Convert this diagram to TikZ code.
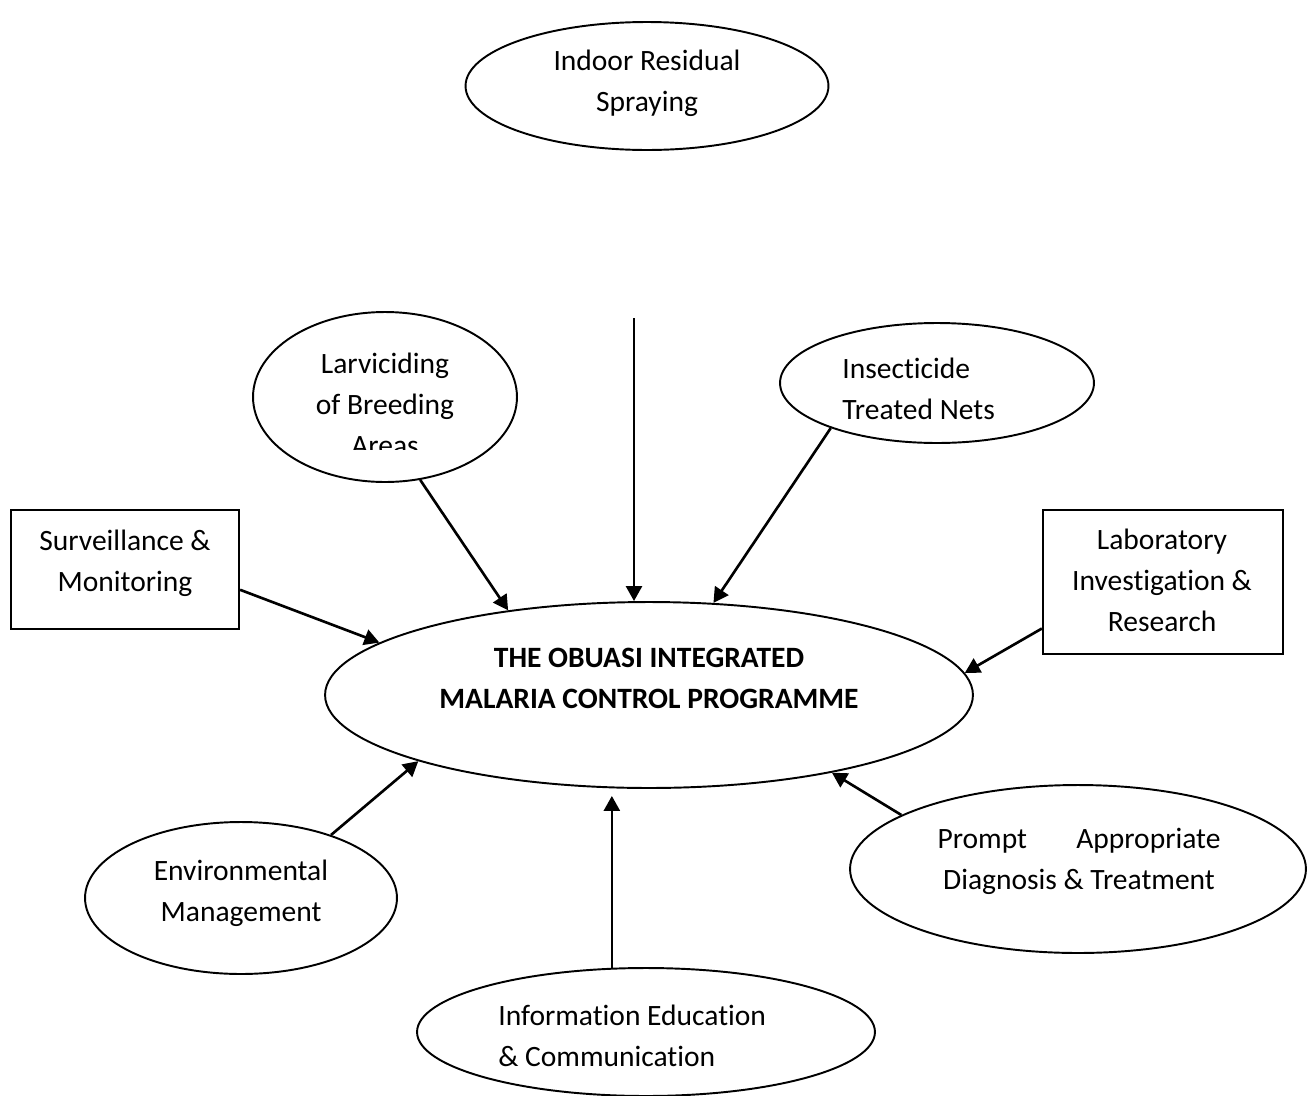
\documentclass[tikz,border=0pt]{standalone}
\usepackage{fontspec}
\setmainfont{Carlito}[Ligatures=CommonOff]
\usetikzlibrary{shapes.geometric,arrows.meta}
\begin{document}
\begin{tikzpicture}[x=0.02cm, y=-0.02cm,
  oval/.style={draw=black, ellipse, line width=1.1pt, inner sep=0pt},
  box/.style={draw=black, rectangle, line width=1.3pt, inner sep=0pt},
  txt/.style={inner sep=0pt, anchor=north, align=center, font=\fontsize{16.8}{23.3}\selectfont},
  arr/.style={line width=1.5pt, -{Triangle[length=0.3cm, width=0.32cm]}}]
  \useasboundingbox (0,0) rectangle (1316,1096);
  \node[oval, minimum width=7.26cm, minimum height=2.56cm] (irs) at (647,86) {};
  \node[oval, minimum width=5.28cm, minimum height=3.4cm] (larv) at (385,397) {};
  \node[oval, minimum width=6.28cm, minimum height=2.4cm] (itn) at (937,383) {};
  \node[box, minimum width=4.56cm, minimum height=2.38cm] (surv) at (125,569.5) {};
  \node[box, minimum width=4.8cm, minimum height=2.88cm] (lab) at (1163,582) {};
  \node[oval, minimum width=12.96cm, minimum height=3.72cm] (prog) at (649,695) {};
  \node[oval, minimum width=6.24cm, minimum height=3.04cm] (env) at (241,898) {};
  \node[oval, minimum width=9.12cm, minimum height=3.36cm] (prompt) at (1078,869) {};
  \node[oval, minimum width=9.16cm, minimum height=2.56cm] (info) at (646,1032) {};

  \node[txt] (irstext) at (647,50) {Indoor Residual\\Spraying};
  \begin{scope}
    \clip (250,300) rectangle (520,449);
    \node[txt] (larvtext) at (385,353) {Larviciding\\of Breeding\\Areas};
  \end{scope}
  \node[txt, anchor=north west, align=left] (itntext) at (842,358) {Insecticide\\Treated Nets};
  \node[txt] (survtext) at (125,530) {Surveillance \&\\Monitoring};
  \node[txt] (labtext) at (1162,529) {Laboratory\\Investigation \&\\Research};
  \node[txt, font=\fontsize{16.8}{23.3}\selectfont\bfseries] (progtext) at (649,648) {THE OBUASI INTEGRATED\\MALARIA CONTROL PROGRAMME};
  \node[txt] (envtext) at (241,860) {Environmental\\Management};
  \node[txt] (prompttext) at (1079,828) {\makebox[5.66cm]{Prompt\hfill Appropriate}\\Diagnosis \& Treatment};
  \node[txt, anchor=north west, align=left] (infotext) at (498,1005) {Information Education\\\& Communication};

  \coordinate (irsfoot) at (634,318);
  \draw[arr] (irsfoot) -- (irsfoot |- prog.north);
  \draw[arr] (larv.-67) -- (prog.149);
  \draw[arr] (itn.203) -- (prog.55);
  \draw[arr] (surv.-10) -- (prog.169);
  \draw[arr] (lab.201) -- (prog.4);
  \draw[arr] (env.35) -- (prog.196);
  \draw[arr] (prompt.163) -- (prog.-23);
  \draw[arr] (info.118) -- ([yshift=-0.14cm]info.118 |- prog.south);
\end{tikzpicture}
\end{document}
